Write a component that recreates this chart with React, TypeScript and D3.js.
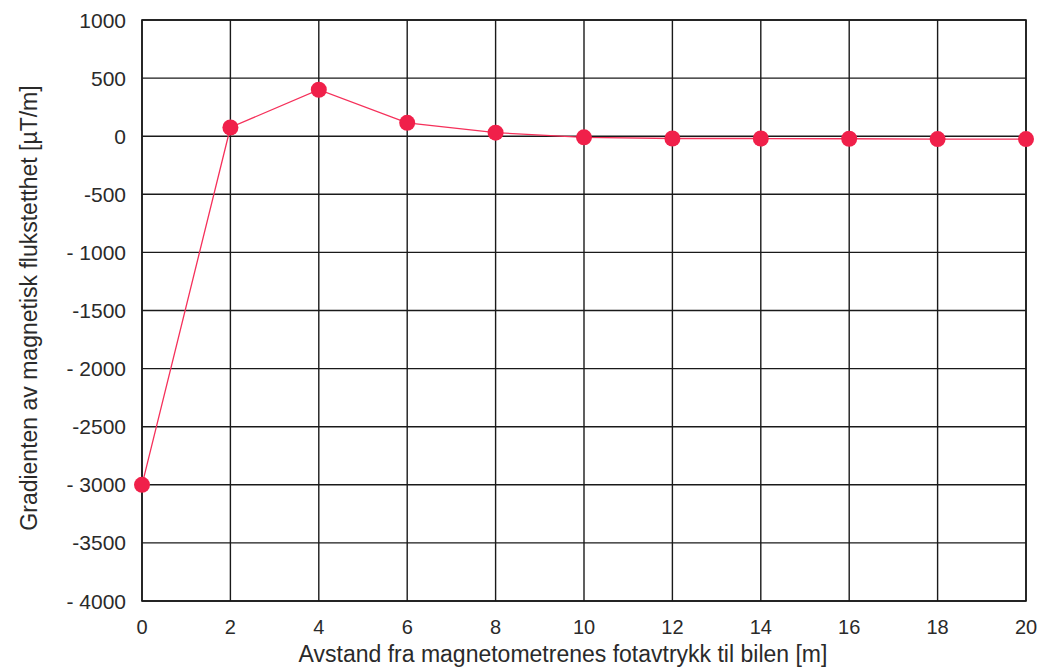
import React from 'react';
import * as d3 from 'd3';

// distance [m] and gradient [µT/m]
const distances = [0, 2, 4, 6, 8, 10, 12, 14, 16, 18, 20];
const gradients = [-3000, 75, 400, 115, 30, -10, -20, -20, -22, -25, -25];

const xTicks = [0, 2, 4, 6, 8, 10, 12, 14, 16, 18, 20];
const yTicks = [1000, 500, 0, -500, -1000, -1500, -2000, -2500, -3000, -3500, -4000];
const yTickLabels = ['1000', '500', '0', '-500', '- 1000', '-1500', '- 2000', '-2500', '- 3000', '-3500', '- 4000'];

const xTitle = 'Avstand fra magnetometrenes fotavtrykk til bilen [m]';
const yTitle = 'Gradienten av magnetisk flukstetthet [µT/m]';

export default function App() {
  const width = 1043;
  const height = 669;
  const margin = { top: 20, right: 17, bottom: 68, left: 142 };
  const innerW = width - margin.left - margin.right;
  const innerH = height - margin.top - margin.bottom;

  const x = d3.scaleLinear().domain([0, 20]).range([0, innerW]);
  const y = d3.scaleLinear().domain([-4000, 1000]).range([innerH, 0]);

  const line = d3
    .line<number>()
    .x((_, i) => x(distances[i]))
    .y((d) => y(d));

  const font = '"Liberation Sans", Arial, sans-serif';

  return (
    <svg
      width={width}
      height={height}
      style={{ position: 'absolute', left: 0, top: 0, background: '#fff' }}
      fontFamily={font}
    >
      <g transform={`translate(${margin.left},${margin.top})`}>
        {xTicks.map((t) => (
          <line key={'gx' + t} x1={x(t)} x2={x(t)} y1={0} y2={innerH} stroke="#1a1a1a" strokeWidth={1.4} />
        ))}
        {yTicks.map((t) => (
          <line key={'gy' + t} x1={0} x2={innerW} y1={y(t)} y2={y(t)} stroke="#1a1a1a" strokeWidth={1.4} />
        ))}
        <rect x={0} y={0} width={innerW} height={innerH} fill="none" stroke="#1a1a1a" strokeWidth={1.6} />

        {yTicks.map((t, i) => (
          <text key={'ty' + t} x={-16} y={y(t)} dy="0.36em" textAnchor="end" fontSize={21} fill="#2a2a2a">
            {yTickLabels[i]}
          </text>
        ))}
        {xTicks.map((t) => (
          <text key={'tx' + t} x={x(t)} y={innerH + 33} textAnchor="middle" fontSize={20} fill="#2a2a2a">
            {t}
          </text>
        ))}

        <path d={line(gradients) || ''} fill="none" stroke="#f5305a" strokeWidth={1.3} />
        {gradients.map((g, i) => (
          <circle key={'pt' + i} cx={x(distances[i])} cy={y(g)} r={8} fill="#f0204a" />
        ))}
      </g>

      <text x={563} y={662} textAnchor="middle" fontSize={23} fill="#2a2a2a">
        {xTitle}
      </text>
      <text
        transform={`translate(37,308) rotate(-90)`}
        textAnchor="middle"
        fontSize={23}
        fill="#2a2a2a"
      >
        {yTitle}
      </text>
    </svg>
  );
}
